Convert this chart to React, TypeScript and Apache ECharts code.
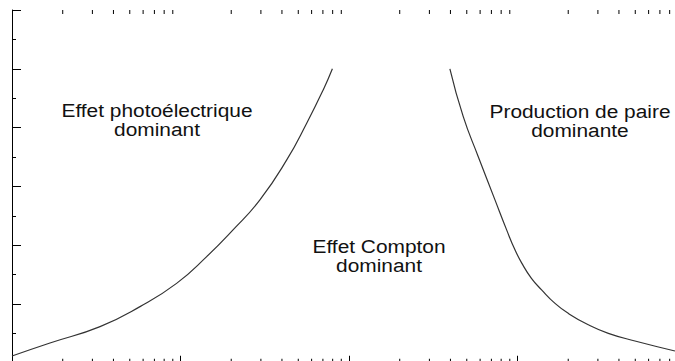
import React, { useEffect, useRef } from "react";
import * as echarts from "echarts";

// Photon energy (MeV) vs atomic number Z of the absorber.
// Boundary where photoelectric absorption equals Compton scattering.
const photoComptonEnergy = [0.01, 0.0168, 0.0333, 0.0575, 0.0948, 0.143, 0.205, 0.296, 0.427, 0.561, 0.704, 0.797];
const photoComptonZ = [2.3, 6.7, 12.3, 19.1, 27, 36.1, 45.2, 55.4, 69, 81.5, 92.9, 100];

// Boundary where Compton scattering equals pair production.
const comptonPairEnergy = [3.97, 4.76, 5.85, 7.35, 8.62, 9.66, 10.6, 12.1, 13.9, 16.7, 20.0, 26.3, 34.6, 49.8, 86];
const comptonPairZ = [100, 83.8, 70.1, 55.4, 45.2, 38.4, 33.9, 28.7, 24.8, 20.2, 16.8, 12.9, 10, 7.4, 4.0];

// Minor tick positions on the logarithmic energy axis.
const minorEnergyTicks = [
  0.02, 0.03, 0.04, 0.05, 0.06, 0.07, 0.08, 0.09,
  0.2, 0.3, 0.4, 0.5, 0.6, 0.7, 0.8, 0.9,
  2, 3, 4, 5, 6, 7, 8, 9,
  20, 30, 40, 50, 60, 70, 80, 90,
];

const regionLabels = [
  { lines: ["Effet photoélectrique", "dominant"], x: 157, y: [111, 130] },
  { lines: ["Effet Compton", "dominant"], x: 379, y: [247, 266] },
  { lines: ["Production de paire", "dominante"], x: 580, y: [112, 131] },
];

const Z_MIN = 0;
const Z_MAX = 120;

export default function App() {
  const ref = useRef<HTMLDivElement>(null);

  useEffect(() => {
    document.body.style.margin = "0";
    document.body.style.overflow = "hidden";
    if (!ref.current) return;
    const chart = echarts.init(ref.current, null, { renderer: "svg" });

    const axisLine = { show: true, lineStyle: { color: "#000", width: 1 } };

    const xCommon = {
      type: "log" as const,
      logBase: 10,
      min: 0.01,
      max: 100,
      axisLine,
      axisLabel: { show: false },
      splitLine: { show: false },
      axisTick: { show: true, inside: true, length: 7, lineStyle: { color: "#000", width: 1 } },
    };

    const yCommon = {
      type: "value" as const,
      min: Z_MIN,
      max: Z_MAX,
      interval: 20,
      axisLine,
      axisLabel: { show: false },
      splitLine: { show: false },
      axisTick: { show: true, inside: true, length: 9, lineStyle: { color: "#000", width: 1 } },
      minorTick: { show: true, splitNumber: 2, length: 4, lineStyle: { color: "#000", width: 1 } },
      minorSplitLine: { show: false },
    };

    const graphic: any[] = [];
    regionLabels.forEach((lab) => {
      lab.lines.forEach((t, i) => {
        graphic.push({
          type: "text",
          x: lab.x,
          y: lab.y[i],
          scaleX: 1.16,
          scaleY: 1,
          silent: true,
          style: {
            text: t,
            x: 0,
            y: 0,
            textAlign: "center",
            textVerticalAlign: "middle",
            fontFamily: "Liberation Sans, Arial, sans-serif",
            fontSize: 18,
            fill: "#111",
          },
        });
      });
    });

    const curveStyle = { color: "#333", width: 1.2 };

    chart.setOption({
      animation: false,
      backgroundColor: "#fff",
      grid: {
        left: 12,
        top: 10,
        width: 674,
        height: 352.75,
        show: false,
        outerBoundsMode: "none",
        containLabel: false,
      },
      xAxis: [
        { ...xCommon, position: "bottom" },
        { ...xCommon, position: "top" },
      ],
      yAxis: [
        { ...yCommon, position: "left" },
        { ...yCommon, position: "right" },
      ],
      series: [
        {
          type: "line",
          data: photoComptonEnergy.map((e, i) => [e, photoComptonZ[i]]),
          smooth: 0.5,
          symbol: "none",
          lineStyle: curveStyle,
        },
        {
          type: "line",
          data: comptonPairEnergy.map((e, i) => [e, comptonPairZ[i]]),
          smooth: 0.5,
          symbol: "none",
          lineStyle: curveStyle,
        },
        {
          // minor ticks of the energy axes, pointing inward from top and bottom
          type: "custom",
          silent: true,
          clip: false,
          data: minorEnergyTicks.map((v) => [v]),
          renderItem: (_params: any, api: any) => {
            const v = api.value(0);
            const top = api.coord([v, Z_MAX]);
            const bot = api.coord([v, Z_MIN]);
            const style = { stroke: "#000", lineWidth: 1 };
            return {
              type: "group",
              children: [
                { type: "line", shape: { x1: top[0], y1: top[1], x2: top[0], y2: top[1] + 4 }, style },
                { type: "line", shape: { x1: bot[0], y1: bot[1], x2: bot[0], y2: bot[1] - 4 }, style },
              ],
            };
          },
        },
      ],
      graphic,
    });

    return () => chart.dispose();
  }, []);

  return (
    <div
      ref={ref}
      style={{ position: "fixed", left: 0, top: 0, width: 700, height: 380, background: "#fff" }}
    />
  );
}
